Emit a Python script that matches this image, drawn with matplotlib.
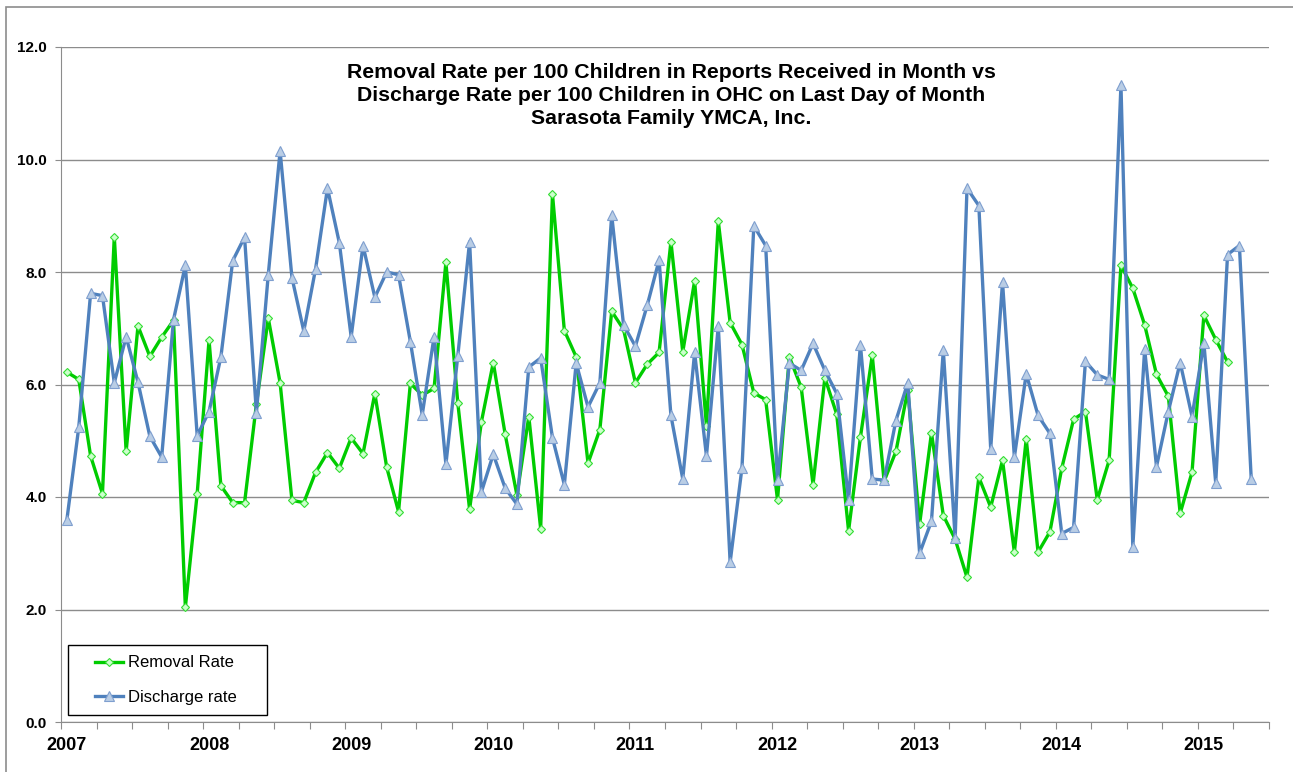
import numpy as np
import matplotlib
matplotlib.use("Agg")
import matplotlib.pyplot as plt
from matplotlib.patches import Rectangle

plt.rcParams['font.family'] = ['Liberation Sans', 'DejaVu Sans']

# monthly rates, Jan 2007 onwards
removal_rate = [6.22, 6.09, 4.73, 4.06, 8.63, 4.81, 7.04, 6.50, 6.84, 7.14, 2.04, 4.06,
                6.79, 4.20, 3.90, 3.90, 5.65, 7.18, 6.03, 3.94, 3.90, 4.44, 4.79, 4.51,
                5.05, 4.77, 5.84, 4.53, 3.74, 6.02, 5.81, 5.93, 8.17, 5.68, 3.78, 5.34,
                6.39, 5.12, 4.03, 5.43, 3.44, 9.38, 6.96, 6.49, 4.60, 5.20, 7.30, 6.98,
                6.03, 6.36, 6.57, 8.54, 6.58, 7.84, 5.27, 8.90, 7.10, 6.71, 5.85, 5.73,
                3.95, 6.49, 5.95, 4.22, 6.12, 5.47, 3.40, 5.06, 6.52, 4.28, 4.81, 5.90,
                3.52, 5.14, 3.67, 3.25, 2.57, 4.35, 3.82, 4.65, 3.02, 5.03, 3.02, 3.38,
                4.51, 5.38, 5.52, 3.95, 4.65, 8.12, 7.71, 7.06, 6.18, 5.79, 3.71, 4.44,
                7.23, 6.80, 6.40]

discharge_rate = [3.60, 5.24, 7.62, 7.58, 6.03, 6.85, 6.04, 5.08, 4.71, 7.15, 8.12, 5.09,
                  5.52, 6.49, 8.20, 8.62, 5.50, 7.95, 10.15, 7.90, 6.95, 8.06, 9.49, 8.52,
                  6.85, 8.47, 7.55, 8.00, 7.95, 6.76, 5.46, 6.85, 4.58, 6.50, 8.54, 4.09,
                  4.76, 4.16, 3.87, 6.31, 6.47, 5.05, 4.22, 6.38, 5.60, 6.03, 9.01, 7.06,
                  6.68, 7.41, 8.21, 5.45, 4.32, 6.57, 4.73, 7.04, 2.84, 4.52, 8.82, 8.47,
                  4.30, 6.38, 6.25, 6.73, 6.25, 5.84, 3.95, 6.71, 4.32, 4.30, 5.36, 6.03,
                  3.00, 3.57, 6.61, 3.27, 9.49, 9.18, 4.86, 7.82, 4.71, 6.19, 5.45, 5.13,
                  3.35, 3.46, 6.41, 6.17, 6.09, 11.33, 3.12, 6.63, 4.54, 5.52, 6.39, 5.43,
                  6.74, 4.25, 8.31, 8.47, 4.32]

years = [2007, 2008, 2009, 2010, 2011, 2012, 2013, 2014, 2015]
start_year = 2007

# month midpoints as fractional years
x_rem = start_year + (np.arange(len(removal_rate)) + 0.5) / 12
x_dis = start_year + (np.arange(len(discharge_rate)) + 0.5) / 12

fig = plt.figure(figsize=(12.93, 7.72), dpi=100)
ax = fig.add_axes([61 / 1293, 1 - 722 / 772, 1208 / 1293, 675 / 772])

# outer chart border
fig.patches.append(Rectangle((6 / 1293, -0.02), 1.1, 1 - 7 / 772 + 0.02,
                             transform=fig.transFigure, fill=False,
                             edgecolor='#8c8c8c', lw=1.2))

ax.plot(x_rem, removal_rate, color='#00cc00', lw=2.4, marker='D', markersize=4.5,
        markerfacecolor='#ccffcc', markeredgecolor='#33dd33', markeredgewidth=0.8,
        label='Removal Rate', zorder=3)
ax.plot(x_dis, discharge_rate, color='#4f81bd', lw=2.4, marker='^', markersize=6.5,
        markerfacecolor='#b9cde5', markeredgecolor='#7f9fcf', markeredgewidth=0.8,
        label='Discharge rate', zorder=4)

ax.set_xlim(2007, 2015.5)
ax.set_ylim(0, 12)
ax.set_yticks(np.arange(0, 12.1, 2))
ax.set_yticklabels([f"{v:.1f}" for v in np.arange(0, 12.1, 2)], fontsize=11, fontweight='bold')
ax.yaxis.grid(True, color='#8c8c8c', lw=1)
ax.set_axisbelow(True)

# quarterly tick marks, year labels a bit right of the January tick
ax.set_xticks(np.arange(2007, 2015.51, 0.25))
ax.set_xticklabels([])
ax.set_xticks([y + 0.5 / 12 for y in years], [str(y) for y in years], minor=True)
ax.tick_params(axis='x', which='major', direction='out', length=5, color='#8c8c8c')
ax.tick_params(axis='x', which='minor', length=0, labelsize=13, pad=11)
for lab in ax.get_xticklabels(minor=True):
    lab.set_fontweight('bold')
ax.tick_params(axis='y', direction='out', length=4, color='#8c8c8c', pad=6)

for s in ['top', 'right']:
    ax.spines[s].set_visible(False)
for s in ['left', 'bottom']:
    ax.spines[s].set_color('#8c8c8c')

ax.text(0.505, 0.976, "Removal Rate per 100 Children in Reports Received in Month vs\n"
        "Discharge Rate per 100 Children in OHC on Last Day of Month\n"
        "Sarasota Family YMCA, Inc.",
        transform=ax.transAxes, ha='center', va='top', fontsize=15.3,
        fontweight='bold', linespacing=1.27)

# legend box drawn separately so the padding can match
ax.add_patch(Rectangle((7 / 1208, 7 / 675), 199 / 1208, 70 / 675, transform=ax.transAxes,
                       facecolor='white', edgecolor='black', lw=1, zorder=9))
leg = ax.legend(loc='center left', bbox_to_anchor=(34 / 1208, 42 / 675), borderaxespad=0,
                frameon=False, fontsize=12, handlelength=1.7,
                handletextpad=0.25, labelspacing=1.15, borderpad=0)
leg.set_zorder(10)

fig.savefig("out.png", dpi=100)
